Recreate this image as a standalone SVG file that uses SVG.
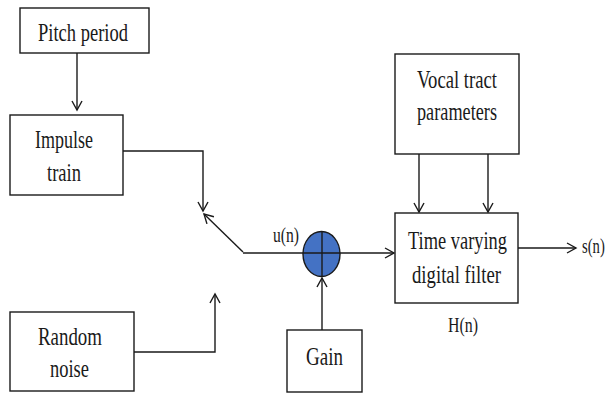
<svg xmlns="http://www.w3.org/2000/svg" width="608" height="394" viewBox="0 0 608 394">
<style>
.box{fill:#fff;stroke:#1a1a1a;stroke-width:1.4}
.ln{fill:none;stroke:#1a1a1a;stroke-width:1.4}
.t{font-family:"Liberation Serif","Times New Roman",serif;font-size:26px;fill:#1a1a1a;text-anchor:start}
.s{font-family:"Liberation Serif","Times New Roman",serif;font-size:21px;fill:#1a1a1a}
</style>
<defs>
<marker id="ah" markerUnits="userSpaceOnUse" markerWidth="14" markerHeight="14" refX="10" refY="6" orient="auto" viewBox="0 0 14 12">
<path d="M1,1 L10,6 L1,11" fill="none" stroke="#1a1a1a" stroke-width="1.4"/>
</marker>
</defs>
<rect width="608" height="394" fill="#fff"/>
<g id="connectors">
<line class="ln" x1="77" y1="53" x2="77" y2="110" marker-end="url(#ah)"/>
<polyline class="ln" points="123,151 203,151 203,211" marker-end="url(#ah)"/>
<line class="ln" x1="243" y1="252" x2="204" y2="214" marker-end="url(#ah)"/>
<line class="ln" x1="243" y1="253" x2="303" y2="253"/>
<line class="ln" x1="340" y1="253" x2="394" y2="253" marker-end="url(#ah)"/>
<polyline class="ln" points="134,352 215,352 215,294" marker-end="url(#ah)"/>
<line class="ln" x1="322" y1="330" x2="322" y2="278" marker-end="url(#ah)"/>
<line class="ln" x1="419" y1="154" x2="419" y2="212" marker-end="url(#ah)"/>
<line class="ln" x1="488" y1="154" x2="488" y2="212" marker-end="url(#ah)"/>
<line class="ln" x1="518" y1="248" x2="576" y2="248" marker-end="url(#ah)"/>
</g>
<g id="pitch">
<rect class="box" x="20" y="8" width="129" height="45"/>
<text class="t" x="38" y="41" textLength="90" lengthAdjust="spacingAndGlyphs">Pitch period</text>
</g>
<g id="impulse">
<rect class="box" x="10" y="115" width="113" height="80"/>
<text class="t" x="35" y="148" textLength="58" lengthAdjust="spacingAndGlyphs">Impulse</text>
<text class="t" x="47" y="181" textLength="34" lengthAdjust="spacingAndGlyphs">train</text>
</g>
<g id="noise">
<rect class="box" x="10" y="312" width="124" height="79"/>
<text class="t" x="38" y="345" textLength="64" lengthAdjust="spacingAndGlyphs">Random</text>
<text class="t" x="50" y="377" textLength="39" lengthAdjust="spacingAndGlyphs">noise</text>
</g>
<g id="vocal">
<rect class="box" x="395" y="54" width="124" height="100"/>
<text class="t" x="417" y="88" textLength="80" lengthAdjust="spacingAndGlyphs">Vocal tract</text>
<text class="t" x="417" y="120" textLength="80" lengthAdjust="spacingAndGlyphs">parameters</text>
</g>
<g id="filter">
<rect class="box" x="395" y="213" width="123" height="90"/>
<text class="t" x="408" y="249" textLength="99" lengthAdjust="spacingAndGlyphs">Time varying</text>
<text class="t" x="412" y="283" textLength="89" lengthAdjust="spacingAndGlyphs">digital filter</text>
<text class="s" x="448" y="332" textLength="30" lengthAdjust="spacingAndGlyphs">H(n)</text>
</g>
<g id="gain">
<rect class="box" x="287" y="330" width="75" height="62"/>
<text class="t" x="306" y="365" textLength="37" lengthAdjust="spacingAndGlyphs">Gain</text>
</g>
<g id="mixer">
<ellipse cx="321.5" cy="254" rx="18.5" ry="22.5" fill="#4472C4" stroke="#1a1a1a" stroke-width="1.4"/>
<line class="ln" x1="303" y1="253" x2="340" y2="253"/>
<line class="ln" x1="322" y1="231.5" x2="322" y2="276.5"/>
</g>
<text class="s" x="273" y="242" textLength="26" lengthAdjust="spacingAndGlyphs">u(n)</text>
<text class="s" transform="translate(582,253) scale(0.7,1)">s(n)</text>
</svg>
